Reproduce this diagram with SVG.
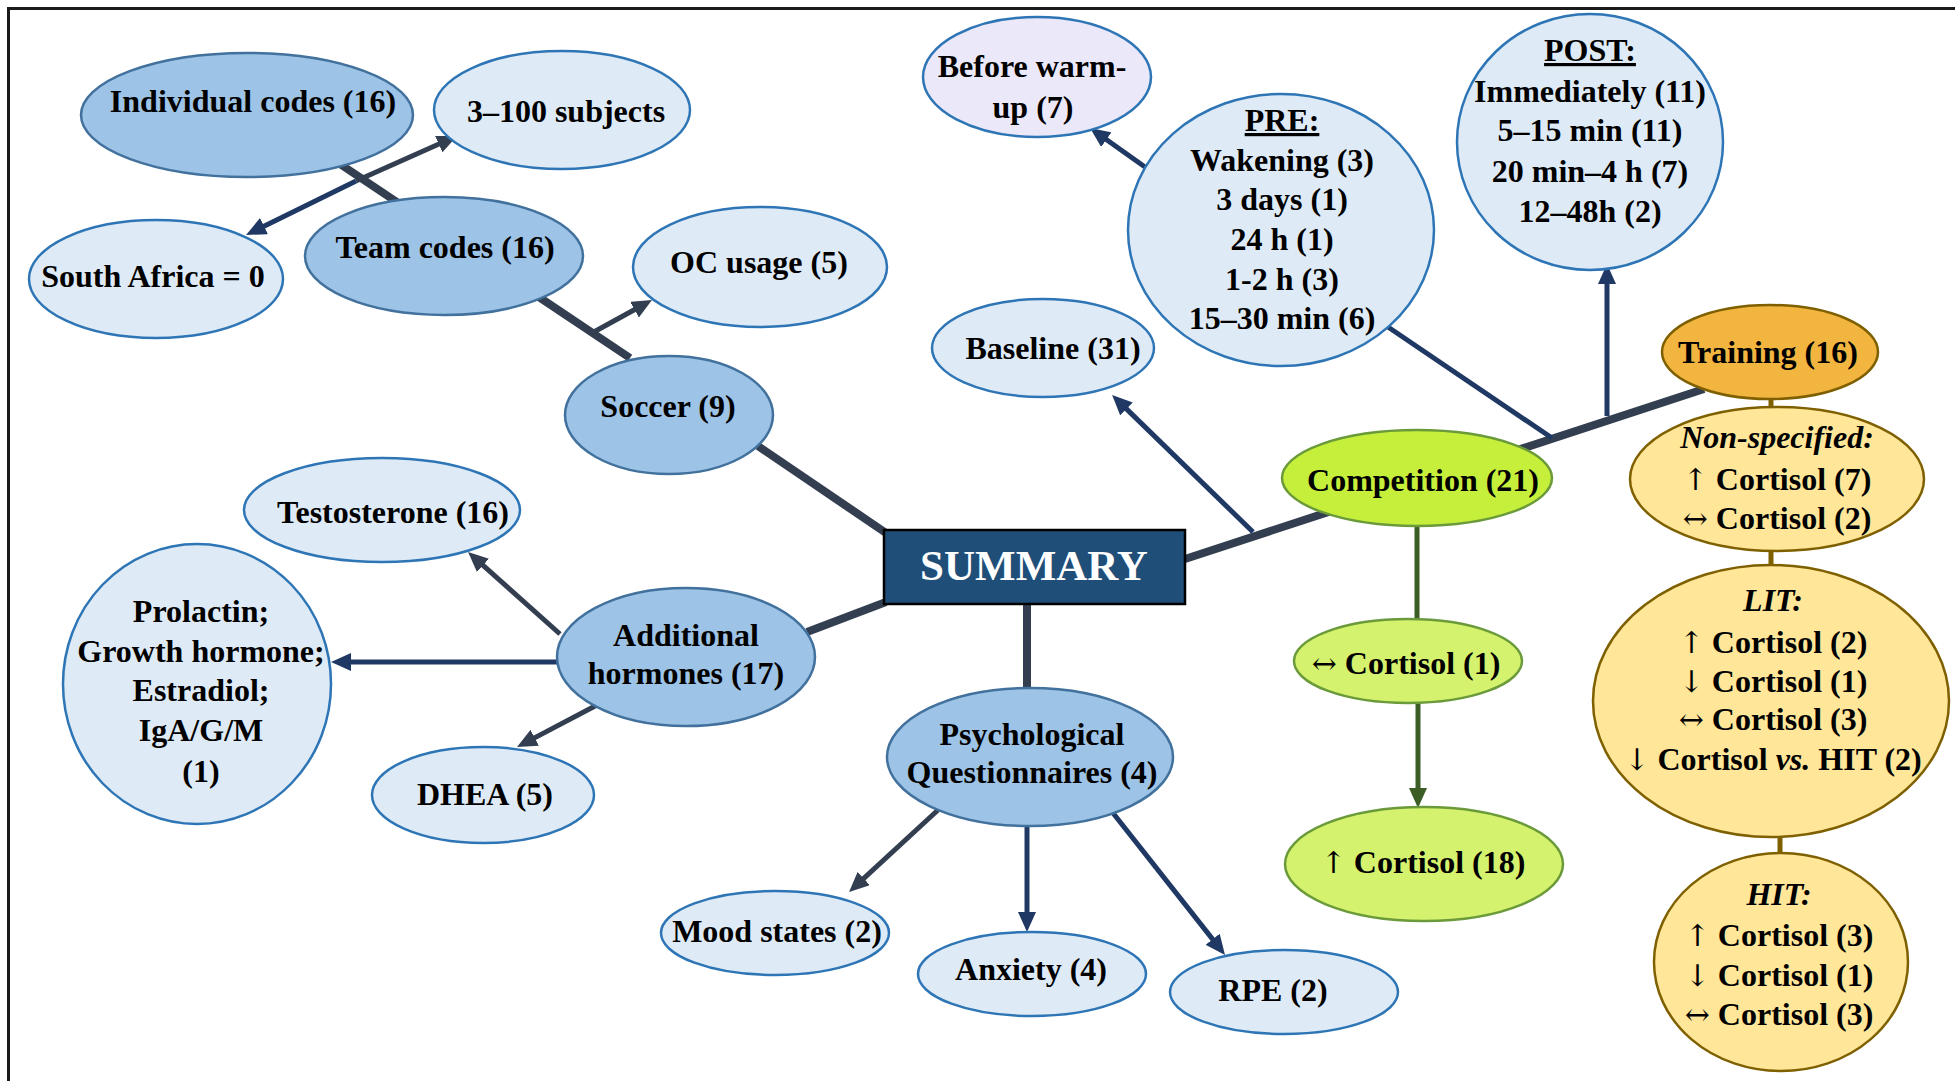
<svg xmlns="http://www.w3.org/2000/svg" width="1955" height="1081" viewBox="0 0 1955 1081">
<style>
text{font-family:"Liberation Serif","Times New Roman",serif;font-weight:bold;font-size:32px;fill:#000;text-anchor:middle}
.mid{fill:#9dc3e6;stroke:#41719c;stroke-width:2.5}
.lt{fill:#deebf7;stroke:#2e75b6;stroke-width:2.5}
.lav{fill:#ebe8fa;stroke:#2e75b6;stroke-width:2.5}
.comp{fill:#c6ef3b;stroke:#6b9a3a;stroke-width:2.5}
.lime{fill:#d5f26e;stroke:#6b9a3a;stroke-width:2.5}
.train{fill:#f2b53f;stroke:#7f6000;stroke-width:2.5}
.yel{fill:#ffe699;stroke:#7f6000;stroke-width:2.5}
.thick{stroke:#333f50;stroke-width:8;fill:none}
.sl{stroke:#333f50;stroke-width:5;fill:none}
.nv{stroke:#1f3864;stroke-width:5;fill:none}
.gr{stroke:#3d5d26;stroke-width:5;fill:none}
.ol{stroke:#7f6000;stroke-width:5;fill:none}
.it{font-style:italic}
.ul{text-decoration:underline}
.ar{font-family:"DejaVu Serif","DejaVu Sans",serif;font-weight:normal;font-size:30px}
</style>
<defs>
<marker id="aSl" markerUnits="userSpaceOnUse" markerWidth="20" markerHeight="18" viewBox="0 0 20 18" refX="4" refY="9" orient="auto"><path d="M0,0 L20,9 L0,18 z" fill="#333f50"/></marker>
<marker id="aNv" markerUnits="userSpaceOnUse" markerWidth="20" markerHeight="18" viewBox="0 0 20 18" refX="4" refY="9" orient="auto"><path d="M0,0 L20,9 L0,18 z" fill="#1f3864"/></marker>
<marker id="aGr" markerUnits="userSpaceOnUse" markerWidth="20" markerHeight="18" viewBox="0 0 20 18" refX="4" refY="9" orient="auto"><path d="M0,0 L20,9 L0,18 z" fill="#3d5d26"/></marker>
</defs>
<rect width="1955" height="1081" fill="#fff"/>
<path d="M8.5,1081 V8.5 H1955" fill="none" stroke="#1a1a1a" stroke-width="3"/>
<g id="connectors">
<line class="thick" x1="337" y1="162" x2="630" y2="358"/>
<line class="thick" x1="758" y1="446" x2="886" y2="533"/>
<line class="thick" x1="886" y1="602" x2="807" y2="632"/>
<line class="thick" x1="1027" y1="604" x2="1027" y2="688"/>
<line class="thick" x1="1185" y1="559" x2="1704" y2="389"/>
<line class="sl" x1="592" y1="333" x2="638" y2="307.7" marker-end="url(#aSl)"/>
<line class="sl" x1="356" y1="181" x2="442.4" y2="142.5" marker-end="url(#aSl)"/>
<line class="nv" x1="356" y1="181" x2="260.4" y2="227.9" marker-end="url(#aNv)"/>
<line class="sl" x1="560" y1="634" x2="480" y2="562.7" marker-end="url(#aSl)"/>
<line class="nv" x1="557" y1="662" x2="347" y2="662" marker-end="url(#aNv)"/>
<line class="sl" x1="597" y1="705" x2="531.2" y2="739.6" marker-end="url(#aSl)"/>
<line class="sl" x1="938" y1="810" x2="860.8" y2="881.2" marker-end="url(#aSl)"/>
<line class="nv" x1="1027" y1="826" x2="1027" y2="916" marker-end="url(#aNv)"/>
<line class="nv" x1="1113" y1="813" x2="1215.1" y2="942.4" marker-end="url(#aNv)"/>
<line class="nv" x1="1253" y1="532" x2="1123.6" y2="406.1" marker-end="url(#aNv)"/>
<line class="nv" x1="1145" y1="167" x2="1103.1" y2="137.3" marker-end="url(#aNv)"/>
<line class="nv" x1="1607" y1="416" x2="1607" y2="280" marker-end="url(#aNv)"/>
<line class="nv" stroke-width="4.5" x1="1388" y1="327" x2="1552" y2="438"/>
<line class="gr" x1="1417" y1="526" x2="1417" y2="620"/>
<line class="gr" x1="1418" y1="704" x2="1418" y2="792" marker-end="url(#aGr)"/>
<line class="ol" x1="1771" y1="397" x2="1771" y2="409"/>
<line class="ol" x1="1771" y1="549" x2="1771" y2="566"/>
<line class="ol" x1="1780" y1="835" x2="1780" y2="855"/>
</g>
<g id="individual-codes"><ellipse class="mid" cx="247" cy="115" rx="166" ry="62"/><text x="253" y="112">Individual codes (16)</text></g>
<g id="subjects"><ellipse class="lt" cx="562" cy="110" rx="128" ry="59"/><text x="566" y="122">3–100 subjects</text></g>
<g id="south-africa"><ellipse class="lt" cx="156" cy="279" rx="127" ry="59"/><text x="153" y="287">South Africa = 0</text></g>
<g id="team-codes"><ellipse class="mid" cx="444" cy="256" rx="139" ry="59"/><text x="445" y="258">Team codes (16)</text></g>
<g id="oc-usage"><ellipse class="lt" cx="760" cy="267" rx="127" ry="60"/><text x="759" y="273">OC usage (5)</text></g>
<g id="soccer"><ellipse class="mid" cx="669" cy="415" rx="104" ry="59"/><text x="668" y="417">Soccer (9)</text></g>
<g id="testosterone"><ellipse class="lt" cx="382" cy="510" rx="138" ry="52"/><text x="393" y="523">Testosterone (16)</text></g>
<g id="other-hormones"><ellipse class="lt" cx="197" cy="684" rx="134" ry="140"/>
<text x="201" y="622">Prolactin;</text><text x="201" y="662">Growth hormone;</text><text x="201" y="701">Estradiol;</text><text x="201" y="741">IgA/G/M</text><text x="201" y="782">(1)</text></g>
<g id="additional-hormones"><ellipse class="mid" cx="686" cy="657" rx="129" ry="69"/><text x="686" y="646">Additional</text><text x="686" y="684">hormones (17)</text></g>
<g id="dhea"><ellipse class="lt" cx="483" cy="795" rx="111" ry="48"/><text x="485" y="805">DHEA (5)</text></g>
<g id="summary"><rect x="884" y="530" width="301" height="74" fill="#1f4e79" stroke="#000" stroke-width="2.5"/><text x="1034" y="580" style="font-size:43px;fill:#fff">SUMMARY</text></g>
<g id="psych"><ellipse class="mid" cx="1030" cy="757" rx="143" ry="69"/><text x="1032" y="745">Psychological</text><text x="1032" y="783">Questionnaires (4)</text></g>
<g id="mood"><ellipse class="lt" cx="775" cy="933" rx="114" ry="42"/><text x="777" y="942">Mood states (2)</text></g>
<g id="anxiety"><ellipse class="lt" cx="1032" cy="974" rx="114" ry="42"/><text x="1031" y="980">Anxiety (4)</text></g>
<g id="rpe"><ellipse class="lt" cx="1284" cy="992" rx="114" ry="42"/><text x="1273" y="1001">RPE (2)</text></g>
<g id="before-warmup"><ellipse class="lav" cx="1037" cy="77" rx="114" ry="60"/><text x="1032" y="77">Before warm-</text><text x="1033" y="118">up (7)</text></g>
<g id="pre"><ellipse class="lt" cx="1281" cy="230" rx="153" ry="136"/>
<text x="1282" y="131" class="ul">PRE:</text><text x="1282" y="171">Wakening (3)</text><text x="1282" y="210">3 days (1)</text><text x="1282" y="250">24 h (1)</text><text x="1282" y="290">1-2 h (3)</text><text x="1282" y="329">15–30 min (6)</text></g>
<g id="baseline"><ellipse class="lt" cx="1043" cy="348" rx="111" ry="49"/><text x="1053" y="359">Baseline (31)</text></g>
<g id="post"><ellipse class="lt" cx="1590" cy="142" rx="133" ry="128"/>
<text x="1590" y="61" class="ul">POST:</text><text x="1590" y="102">Immediately (11)</text><text x="1590" y="141">5–15 min (11)</text><text x="1590" y="182">20 min–4 h (7)</text><text x="1590" y="222">12–48h (2)</text></g>
<g id="training"><ellipse class="train" cx="1770" cy="352" rx="108" ry="47"/><text x="1768" y="363">Training (16)</text></g>
<g id="non-specified"><ellipse class="yel" cx="1777" cy="479" rx="147" ry="72"/>
<text x="1777" y="448" class="it">Non-specified:</text><text x="1777" y="490"><tspan class="ar">↑</tspan> Cortisol (7)</text><text x="1777" y="529"><tspan class="ar">↔</tspan> Cortisol (2)</text></g>
<g id="lit"><ellipse class="yel" cx="1771" cy="701" rx="178" ry="136"/>
<text x="1773" y="611" class="it">LIT:</text><text x="1773" y="653"><tspan class="ar">↑</tspan> Cortisol (2)</text><text x="1773" y="692"><tspan class="ar">↓</tspan> Cortisol (1)</text><text x="1773" y="730"><tspan class="ar">↔</tspan> Cortisol (3)</text><text x="1773" y="770"><tspan class="ar">↓</tspan> Cortisol <tspan class="it">vs.</tspan> HIT (2)</text></g>
<g id="hit"><ellipse class="yel" cx="1781" cy="962" rx="127" ry="109"/>
<text x="1779" y="905" class="it">HIT:</text><text x="1779" y="946"><tspan class="ar">↑</tspan> Cortisol (3)</text><text x="1779" y="986"><tspan class="ar">↓</tspan> Cortisol (1)</text><text x="1779" y="1025"><tspan class="ar">↔</tspan> Cortisol (3)</text></g>
<g id="competition"><ellipse class="comp" cx="1417" cy="478" rx="135" ry="48"/><text x="1423" y="491">Competition (21)</text></g>
<g id="cortisol-unchanged"><ellipse class="lime" cx="1408" cy="661" rx="114" ry="42"/><text x="1406" y="674"><tspan class="ar">↔</tspan> Cortisol (1)</text></g>
<g id="cortisol-up"><ellipse class="lime" cx="1424" cy="864" rx="139" ry="57"/><text x="1423" y="873"><tspan class="ar">↑</tspan> Cortisol (18)</text></g>
</svg>
